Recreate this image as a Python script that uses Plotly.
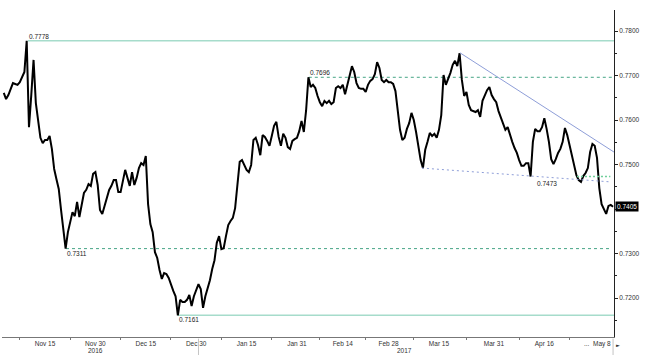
import pandas as pd
import plotly.graph_objects as go

# ---------------- data ----------------
# half-day samples (00:00 and 12:00) on weekdays, 2016-11-02 .. 2017-05-05, plus 2017-05-08 00:00
start_day = "2016-11-02"
end_day = "2017-05-05"
last_stamp = "2017-05-08 00:00"

price = [
    0.7661, 0.7647, 0.7656, 0.7672, 0.7683, 0.7681, 0.7679, 0.7685, 0.7697, 0.7708,
    0.7778, 0.7584, 0.7656, 0.7735, 0.7638, 0.7600, 0.7560, 0.7548, 0.7555, 0.7555,
    0.7564, 0.7535, 0.7490, 0.7467, 0.7445, 0.7398, 0.7353, 0.7311, 0.7348, 0.7375,
    0.7393, 0.7384, 0.7416, 0.7382, 0.7409, 0.7436, 0.7443, 0.7456, 0.7452, 0.7479,
    0.7483, 0.7454, 0.7398, 0.7389, 0.7407, 0.7427, 0.7443, 0.7452, 0.7465, 0.7465,
    0.7438, 0.7438, 0.7465, 0.7488, 0.7470, 0.7452, 0.7483, 0.7454, 0.7470, 0.7492,
    0.7503, 0.7499, 0.7519, 0.7411, 0.7366, 0.7348, 0.7303, 0.7290, 0.7263, 0.7243,
    0.7256, 0.7254, 0.7245, 0.7229, 0.7216, 0.7204, 0.7161, 0.7196, 0.7191, 0.7191,
    0.7196, 0.7207, 0.7182, 0.7204, 0.7220, 0.7231, 0.7220, 0.7178, 0.7204, 0.7222,
    0.7240, 0.7265, 0.7285, 0.7324, 0.7339, 0.7310, 0.7312, 0.7339, 0.7364, 0.7373,
    0.7380, 0.7402, 0.7454, 0.7506, 0.7510, 0.7497, 0.7488, 0.7483, 0.7499, 0.7555,
    0.7560, 0.7544, 0.7521, 0.7566, 0.7562, 0.7553, 0.7542, 0.7564, 0.7587, 0.7596,
    0.7562, 0.7542, 0.7569, 0.7560, 0.7539, 0.7535, 0.7553, 0.7557, 0.7560, 0.7575,
    0.7598, 0.7573, 0.7622, 0.7696, 0.7674, 0.7679, 0.7672, 0.7654, 0.7640, 0.7631,
    0.7643, 0.7638, 0.7643, 0.7636, 0.7640, 0.7672, 0.7676, 0.7672, 0.7679, 0.7658,
    0.7681, 0.7699, 0.7721, 0.7708, 0.7683, 0.7672, 0.7670, 0.7670, 0.7663, 0.7679,
    0.7688, 0.7692, 0.7703, 0.7730, 0.7717, 0.7690, 0.7685, 0.7690, 0.7685, 0.7685,
    0.7681, 0.7665, 0.7627, 0.7578, 0.7555, 0.7560, 0.7580, 0.7593, 0.7616, 0.7600,
    0.7573, 0.7544, 0.7510, 0.7492, 0.7533, 0.7551, 0.7571, 0.7564, 0.7569, 0.7560,
    0.7578, 0.7611, 0.7701, 0.7679, 0.7692, 0.7706, 0.7724, 0.7733, 0.7721, 0.7750,
    0.7690, 0.7654, 0.7663, 0.7634, 0.7622, 0.7620, 0.7618, 0.7622, 0.7607, 0.7643,
    0.7654, 0.7667, 0.7674, 0.7656, 0.7647, 0.7640, 0.7620, 0.7607, 0.7591, 0.7578,
    0.7584, 0.7566, 0.7551, 0.7537, 0.7526, 0.7510, 0.7497, 0.7497, 0.7503, 0.7503,
    0.7473, 0.7551, 0.7580, 0.7575, 0.7575, 0.7584, 0.7604, 0.7580, 0.7551, 0.7512,
    0.7501, 0.7512, 0.7526, 0.7535, 0.7551, 0.7582, 0.7566, 0.7544, 0.7521, 0.7497,
    0.7476, 0.7465, 0.7461, 0.7474, 0.7481, 0.7492, 0.7528, 0.7546, 0.7542, 0.7515,
    0.7447, 0.7411, 0.7400, 0.7389, 0.7407, 0.7409,
    0.7405,
]
last_value = 0.7405

# horizontal levels
level_values = [0.7778, 0.7696, 0.7311, 0.7161]
level_labels = ["0.7778", "0.7696", "0.7311", "0.7161"]
level_starts = ["2016-11-09 07:00", "2017-02-02 14:00", "2016-11-21 14:00", "2016-12-26 00:00"]
level_ends = ["2017-05-08 05:00", "2017-05-08 05:00", "2017-05-05 12:00", "2017-05-08 05:00"]
level_dashed = [False, True, True, False]
level_label_above = [True, True, False, False]

# trend lines
res_dates = ["2017-03-21 14:00", "2017-05-08 05:00"]
res_values = [0.7751, 0.7528]
sup_dates = ["2017-03-09 07:00", "2017-05-05 10:00"]
sup_values = [0.7492, 0.7461]
sup_label = "0.7473"
sup_label_date = "2017-04-13 00:00"
dot_level = 0.7473
dot_dates = ["2017-04-26 03:00", "2017-05-05 10:00"]

# axes
x_range = ["2016-11-01 14:40", "2017-05-08 05:00"]
y_range = [0.71124, 0.78472]
tick_dates = ["2016-11-15", "2016-11-30", "2016-12-15", "2016-12-30", "2017-01-16",
              "2017-01-31", "2017-02-14", "2017-02-28", "2017-03-15", "2017-03-31", "2017-04-17"]
tick_text = ["Nov 15", "Nov 30", "Dec 15", "Dec 30", "Jan 15",
             "Jan 31", "Feb 14", "Feb 28", "Mar 15", "Mar 31", "Apr 16"]
minor_dates = ["2016-11-07 12:00", "2016-11-22 12:00", "2016-12-07 12:00", "2016-12-22 12:00",
               "2017-01-06 12:00", "2017-01-23 12:00", "2017-02-07 00:00", "2017-02-21 00:00",
               "2017-03-07 12:00", "2017-03-23 00:00", "2017-04-07 12:00", "2017-04-24 12:00"]
y_ticks = [0.72, 0.73, 0.74, 0.75, 0.76, 0.77, 0.78]
y_tick_text = ["0.7200", "0.7300", "", "0.7500", "0.7600", "0.7700", "0.7800"]
y_minor = [0.715, 0.725, 0.735, 0.745, 0.755, 0.765, 0.775]
year_labels = ["2016", "2017"]
year_label_dates = ["2016-11-30", "2017-03-03 14:00"]
extra_labels = ["...", "May 8"]
extra_label_dates = ["2017-04-28 08:00", "2017-05-08 00:00"]
year_sep_dates = ["2016-12-30 12:00", "2017-05-08 00:00"]

# ---------------- figure ----------------
days = pd.bdate_range(start_day, end_day)
times = []
for d in days:
    times.append(d)
    times.append(d + pd.Timedelta(hours=12))
times.append(pd.Timestamp(last_stamp))

FONT = "Liberation Sans, Arial, sans-serif"
SOLID_C = "#a6dccb"
DASH_C = "#46a585"
BLUE_C = "#8e9ed8"

fig = go.Figure()
fig.add_trace(go.Scatter(x=times, y=price, mode="lines",
                         line=dict(color="black", width=2), hoverinfo="skip",
                         showlegend=False))

shapes = []
annotations = []
for v, lab, s, e, dashed, above in zip(level_values, level_labels, level_starts, level_ends,
                                       level_dashed, level_label_above):
    shapes.append(dict(type="line", xref="x", yref="y", x0=s, x1=e, y0=v, y1=v,
                       line=dict(color=DASH_C if dashed else SOLID_C,
                                 width=1 if dashed else 1.5,
                                 dash="3px,3px" if dashed else "solid"), layer="below"))
    annotations.append(dict(x=s, y=v, xref="x", yref="y", text=lab, showarrow=False,
                            xanchor="left", yanchor="bottom" if above else "top",
                            xshift=-1, yshift=-1 if above else 1,
                            font=dict(size=6.5, color="#222", family=FONT)))

shapes.append(dict(type="line", xref="x", yref="y", x0=res_dates[0], x1=res_dates[1],
                   y0=res_values[0], y1=res_values[1], line=dict(color=BLUE_C, width=1)))
shapes.append(dict(type="line", xref="x", yref="y", x0=sup_dates[0], x1=sup_dates[1],
                   y0=sup_values[0], y1=sup_values[1],
                   line=dict(color=BLUE_C, width=1, dash="2px,3px")))
shapes.append(dict(type="line", xref="x", yref="y", x0=dot_dates[0], x1=dot_dates[1],
                   y0=dot_level, y1=dot_level, line=dict(color="#6fcf9a", width=1.5, dash="2px,2px")))
annotations.append(dict(x=sup_label_date, y=dot_level, xref="x", yref="y", text=sup_label,
                        showarrow=False, xanchor="left", yanchor="top", yshift=-1,
                        font=dict(size=6.5, color="#222", family=FONT)))

for d in year_sep_dates:
    shapes.append(dict(type="line", xref="x", yref="paper", x0=d, x1=d, y0=-0.005, y1=-0.06,
                       line=dict(color="#c4c4c4", width=1)))

for t, d in zip(year_labels, year_label_dates):
    annotations.append(dict(x=d, y=0, xref="x", yref="paper", text=t, showarrow=False,
                            xanchor="center", yanchor="top", yshift=-8,
                            font=dict(size=6.5, color="#333", family=FONT)))
annotations.append(dict(x=extra_label_dates[0], y=0, xref="x", yref="paper", text=extra_labels[0],
                        showarrow=False, xanchor="center", yanchor="top", yshift=-1,
                        font=dict(size=6.5, color="#333", family=FONT)))
annotations.append(dict(x=extra_label_dates[1], y=0, xref="x", yref="paper", text=extra_labels[1],
                        showarrow=False, xanchor="right", yanchor="top", yshift=-1,
                        font=dict(size=6.5, color="#333", family=FONT)))
annotations.append(dict(x=1, y=0, xref="paper", yref="paper", text="►", showarrow=False,
                        xanchor="left", yanchor="top", xshift=0, yshift=-3,
                        font=dict(size=5, color="#333", family="DejaVu Sans")))
annotations.append(dict(x=1, y=last_value, xref="paper", yref="y", text=f"{last_value:.4f}",
                        showarrow=False, xanchor="left", yanchor="middle", xshift=1,
                        bgcolor="black", borderpad=1,
                        font=dict(size=6.5, color="white", family=FONT)))

fig.update_layout(
    width=645, height=355,
    margin=dict(l=2, r=31, t=10, b=18),
    paper_bgcolor="white", plot_bgcolor="white",
    shapes=shapes, annotations=annotations,
    showlegend=False,
    xaxis=dict(type="date", range=x_range,
               rangebreaks=[dict(bounds=["sat", "mon"])],
               tickmode="array", tickvals=tick_dates, ticktext=tick_text,
               ticks="", showline=True, linecolor="#777", linewidth=1,
               showgrid=False, zeroline=False,
               tickfont=dict(size=6.5, color="#333", family=FONT),
               minor=dict(tickmode="array", tickvals=minor_dates, ticks="outside",
                          ticklen=2, tickcolor="#777", showgrid=False)),
    yaxis=dict(side="right", range=y_range, tickmode="array", tickvals=y_ticks,
               ticktext=y_tick_text,
               ticks="outside", ticklen=3, tickcolor="#222",
               showline=True, linecolor="#222", linewidth=1,
               showgrid=False, zeroline=False,
               tickfont=dict(size=6.5, color="#333", family=FONT),
               minor=dict(tickmode="array", tickvals=y_minor, ticks="outside",
                          ticklen=2, tickcolor="#222", showgrid=False)),
)

fig.write_html("out.html")
